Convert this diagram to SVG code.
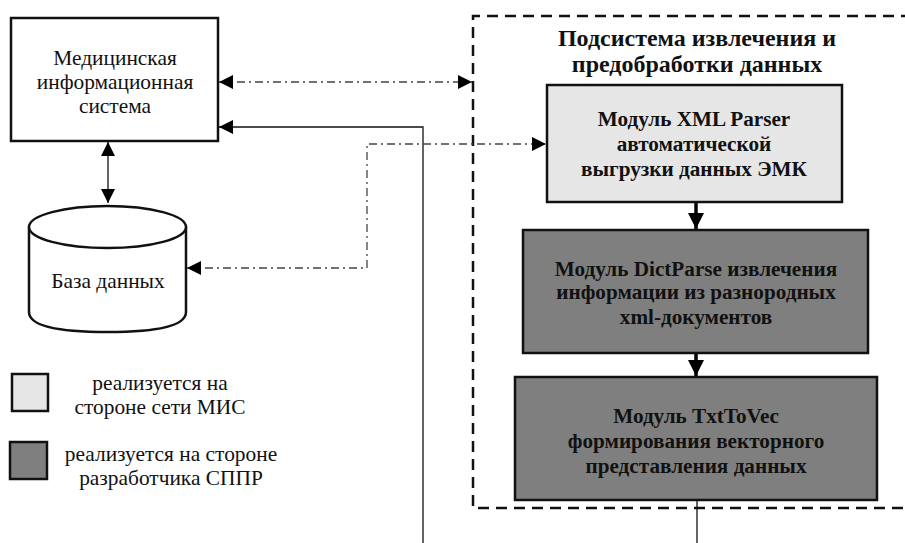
<svg xmlns="http://www.w3.org/2000/svg" width="905" height="543" viewBox="0 0 905 543">
  <style>
    text { font-family: 'Liberation Serif', 'Times New Roman', serif; font-size: 21.4px; fill: #111; text-anchor: middle; }
    .b { font-weight: bold; font-size: 21.2px; }
    .title { font-weight: bold; font-size: 24px; }
    .box { stroke: #111; stroke-width: 2.5; }
    .dd { fill: none; stroke: #444; stroke-width: 1.3; stroke-dasharray: 8 4 2 4; }
    .solid { fill: none; stroke: #111; stroke-width: 1.3; }
  </style>
  <defs>
    <marker id="ah" viewBox="0 0 14 14" refX="14" refY="7" markerWidth="14" markerHeight="14" markerUnits="userSpaceOnUse" orient="auto-start-reverse">
      <path d="M0,0 L14,7 L0,14 Z" fill="#000"/>
    </marker>
    <marker id="ahBig" viewBox="0 0 16 16" refX="16" refY="8" markerWidth="16" markerHeight="16" markerUnits="userSpaceOnUse" orient="auto">
      <path d="M0,0 L16,8 L0,16 Z" fill="#000"/>
    </marker>
  </defs>
  <rect width="905" height="543" fill="#fff"/>

  <!-- Subsystem boundary (runs past the right edge) -->
  <g id="subsystem">
    <path d="M930,16 H473 V508 H930" fill="none" stroke="#111" stroke-width="2.5" stroke-dasharray="11 7"/>
    <text class="title" x="697" y="46">Подсистема извлечения и</text>
    <text class="title" x="697" y="72">предобработки данных</text>
  </g>

  <g id="mis">
    <rect class="box" x="11" y="18" width="207" height="123" fill="#fff"/>
    <text x="115" y="65">Медицинская</text>
    <text x="115" y="89">информационная</text>
    <text x="115" y="113">система</text>
  </g>

  <g id="db">
    <path class="box" d="M29,227 V312 Q29,332 107.5,332 Q186,332 186,312 V227" fill="#fff"/>
    <ellipse class="box" cx="107.5" cy="227" rx="78.5" ry="21" fill="#fff"/>
    <text x="108" y="288">База данных</text>
  </g>

  <g id="xml-parser">
    <rect class="box" x="547" y="85" width="295" height="117" fill="#e6e6e6"/>
    <text class="b" x="694" y="126">Модуль XML Parser</text>
    <text class="b" x="694" y="151">автоматической</text>
    <text class="b" x="694" y="176">выгрузки данных ЭМК</text>
  </g>

  <g id="dict-parse">
    <rect class="box" x="523" y="230" width="345" height="123" fill="#7f7f7f"/>
    <text class="b" x="696" y="276">Модуль DictParse извлечения</text>
    <text class="b" x="696" y="299">информации из разнородных</text>
    <text class="b" x="696" y="324">xml-документов</text>
  </g>

  <g id="txt-to-vec">
    <rect class="box" x="515" y="377" width="362" height="123" fill="#7f7f7f"/>
    <text class="b" x="696" y="423">Модуль TxtToVec</text>
    <text class="b" x="696" y="448">формирования векторного</text>
    <text class="b" x="696" y="473">представления данных</text>
  </g>

  <g id="legend">
    <rect class="box" x="12" y="374" width="36" height="37" fill="#e6e6e6"/>
    <text x="160" y="390">реализуется на</text>
    <text x="160" y="414">стороне сети МИС</text>
    <rect class="box" x="10" y="442" width="37" height="37" fill="#7f7f7f"/>
    <text x="171" y="461">реализуется на стороне</text>
    <text x="171" y="485">разработчика СППР</text>
  </g>

  <g id="connectors">
    <!-- MIS <-> subsystem -->
    <line class="dd" x1="219" y1="82" x2="472" y2="82" marker-start="url(#ah)" marker-end="url(#ah)"/>
    <!-- output back to MIS -->
    <path class="solid" d="M423,543 V127 H219" marker-end="url(#ah)"/>
    <!-- DB <-> XML Parser -->
    <path class="dd" d="M187,268 H367 V144 H546" marker-start="url(#ah)" marker-end="url(#ah)"/>
    <!-- MIS <-> DB -->
    <line class="solid" x1="108" y1="142" x2="108" y2="203" stroke-width="1.6" marker-start="url(#ah)" marker-end="url(#ah)"/>
    <!-- module chain -->
    <line x1="696" y1="203" x2="696" y2="229" stroke="#000" stroke-width="3.5" marker-end="url(#ahBig)"/>
    <line x1="696" y1="354" x2="696" y2="376" stroke="#000" stroke-width="3.5" marker-end="url(#ahBig)"/>
    <!-- TxtToVec output -->
    <line class="solid" x1="697" y1="501" x2="697" y2="543"/>
  </g>
</svg>
